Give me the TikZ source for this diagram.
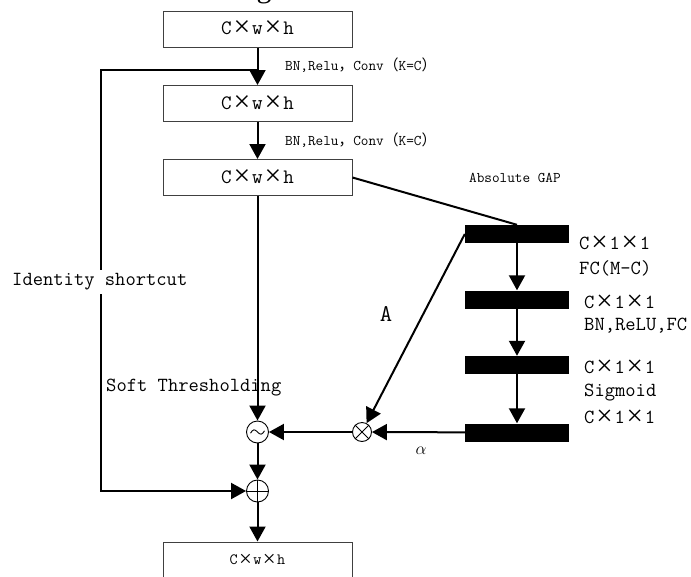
\documentclass[tikz,border=0pt]{standalone}
\usepackage{fontspec}
\newfontfamily\cjk{Noto Sans CJK SC}
\newfontfamily\serifg{Liberation Serif}
\usetikzlibrary{arrows.meta}
\newcommand\mytimes{\makebox[1em]{\raisebox{-0.1em}{\scalebox{1.45}{\serifg ×}}}}
\begin{document}
\ttfamily
\begin{tikzpicture}[x=1pt,y=-1pt,
  box/.style={draw=black!75, line width=1pt, minimum width=189pt, minimum height=36pt, inner sep=0pt, font=\ttfamily\fontsize{20.5}{20.5}\selectfont},
  bar/.style={fill=black, minimum width=104pt, minimum height=18pt, inner sep=0pt},
  conn/.style={line width=2pt, -{Triangle[length=15pt,width=16pt]}},
  plain/.style={line width=2pt},
  op/.style={circle, draw, line width=0.9pt, inner sep=0pt},
  lab/.style={inner sep=0pt, anchor=west, font=\ttfamily\fontsize{20}{20}\selectfont},
  small/.style={inner sep=0pt, anchor=west, font=\ttfamily\fontsize{14.8}{14.8}\selectfont}]
\useasboundingbox (0,0) rectangle (691,576);
% caption fragment
\node[anchor=base, inner sep=0pt, font=\serifg\fontsize{30}{30}\selectfont] (cap) at (264,-3) {g};
% boxes
\node[box] (b1) at (257.5,29) {C\mytimes w\mytimes h};
\node[box] (b2) at (257.5,103.5) {C\mytimes w\mytimes h};
\node[box] (b3) at (257.5,177.5) {C\mytimes w\mytimes h};
\node[box, font=\ttfamily\fontsize{15.7}{15.7}\selectfont] (b4) at (257.5,560) {C\mytimes w\mytimes h};
% bars
\node[bar] (k1) at (517,234) {};
\node[bar] (k2) at (517,299.5) {};
\node[bar] (k3) at (517,365) {};
\node[bar] (k4) at (517,432.5) {};
% operators
\node[op, minimum size=22pt] (tl) at (257.5,432) {};
\node[op, minimum size=19pt] (mul) at (362,432) {};
\node[op, minimum size=22pt] (add) at (257.5,491) {};
\draw[line width=0.9pt] (mul.north east) -- (mul.south west) (mul.north west) -- (mul.south east);
\draw[line width=0.9pt] (add.north) -- (add.south) (add.west) -- (add.east);
\draw[line width=0.9pt] (tl.center) ++(-7,1.2) sin ++(3.5,-3.4) cos ++(3.5,2.2) sin ++(3.5,2.2) cos ++(3.5,-3.4);
% connectors
\draw[conn] (b1) -- (b2);
\draw[conn] (b2) -- (b3);
\draw[conn] (b3) -- (tl);
\draw[conn] (tl) -- (add);
\draw[conn] (add) -- (b4);
\draw[plain] (b3.east) -- (k1.north);
\draw[conn] (k1) -- (k2);
\draw[conn] (k2) -- (k3);
\draw[conn] (k3) -- (k4);
\draw[conn] (k4) -- (mul);
\draw[conn] (mul) -- (tl);
\draw[conn] (k1.west) -- (mul);
\coordinate (j) at (257.5,70);
\coordinate (sc) at (101,70);
\draw[conn] (j) -- (sc) |- (add);
% labels
\node[small] (l1) at (285,65) {BN,Relu{\cjk ，}Conv{\cjk （}K=C{\cjk ）}};
\node[small] (l2) at (285,140) {BN,Relu{\cjk ，}Conv{\cjk （}K=C{\cjk ）}};
\node[small] (gap) at (469,178) {Absolute GAP};
\node[lab, fill=white, inner ysep=4pt] (id) at (12,282) {Identity shortcut};
\node[lab] (st) at (106,388) {Soft Thresholding};
\node[inner sep=0pt, font=\ttfamily\fontsize{24}{24}\selectfont] (A) at (386,314) {A};
\node[inner sep=0pt, font=\fontsize{16}{16}\selectfont] (al) at (421,451) {$\alpha$};
\node[lab] (r1) at (579,244) {C\mytimes 1\mytimes 1};
\node[lab] (r2) at (579,268) {FC(M-C)};
\node[lab] (r3) at (584,303) {C\mytimes 1\mytimes 1};
\node[lab] (r4) at (584,326) {BN,ReLU,FC};
\node[lab] (r5) at (584,368) {C\mytimes 1\mytimes 1};
\node[lab] (r6) at (584,393) {Sigmoid};
\node[lab] (r7) at (584,418) {C\mytimes 1\mytimes 1};
\end{tikzpicture}
\end{document}
